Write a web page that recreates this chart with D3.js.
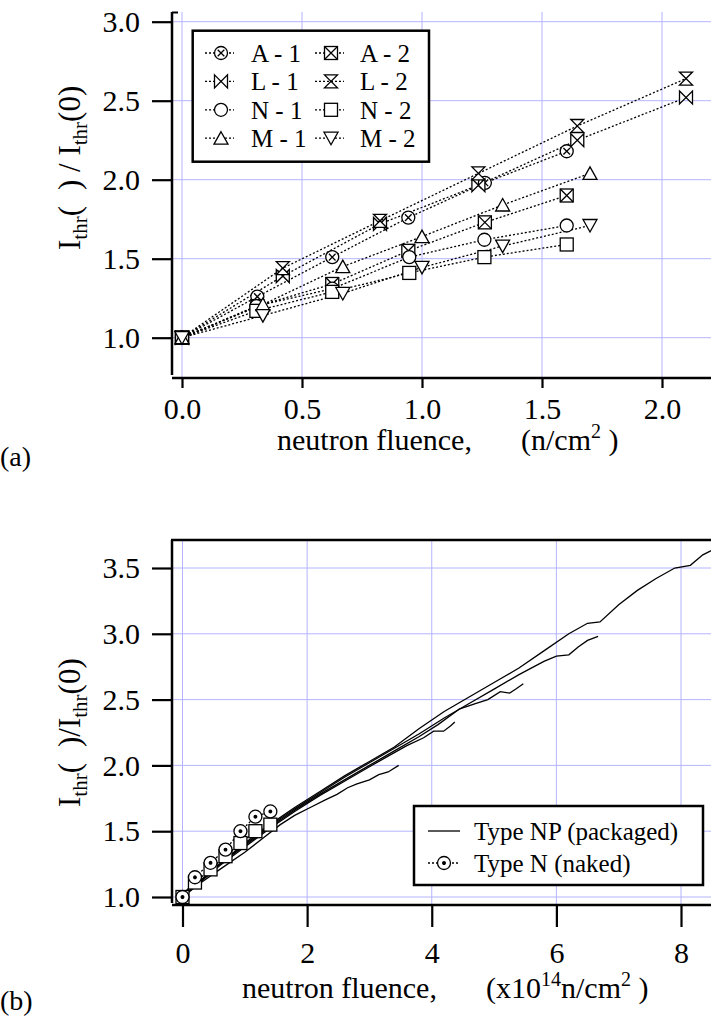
<!DOCTYPE html>
<html><head><meta charset="utf-8">
<script src="https://cdn.jsdelivr.net/npm/d3@7"></script>
<style>
body{margin:0;background:#fff}
svg{display:block}
text{font-family:"Liberation Serif","Times New Roman",serif;fill:#000;white-space:pre}
</style>
</head><body>
<svg id="c" width="711" height="1017"></svg>
<script>
// ---------- DATA: panel (a) ----------
const fluenceA = [0, 0.314, 0.626, 0.943, 1.262, 1.603];
const ratioA1  = [1.0, 1.26, 1.51, 1.76, 1.98, 2.18];
const ratioA2  = [1.0, 1.20, 1.34, 1.55, 1.73, 1.90];
const fluenceL = [0, 0.42, 0.825, 1.235, 1.647, 2.10];
const ratioL1  = [1.0, 1.39, 1.72, 1.965, 2.25, 2.52];
const ratioL2  = [1.0, 1.44, 1.74, 2.04, 2.34, 2.64];
const fluenceN = [0, 0.31, 0.626, 0.947, 1.26, 1.603];
const ratioN1  = [1.0, 1.20, 1.31, 1.51, 1.62, 1.71];
const ratioN2  = [1.0, 1.17, 1.29, 1.41, 1.51, 1.59];
const fluenceM = [0, 0.337, 0.67, 1.0, 1.336, 1.70];
const ratioM1  = [1.0, 1.21, 1.45, 1.64, 1.84, 2.04];
const ratioM2  = [1.0, 1.14, 1.28, 1.445, 1.58, 1.71];
const xTicksA = [0, 0.5, 1.0, 1.5, 2.0];
const yTicksA = [1.0, 1.5, 2.0, 2.5, 3.0];

// ---------- DATA: panel (b) ----------
const nakedFluence = [0, 0.2, 0.45, 0.69, 0.93, 1.17, 1.41];
const nakedRatioCircle = [1.0, 1.15, 1.26, 1.36, 1.50, 1.61, 1.65];
const nakedRatioSquare = [1.0, 1.11, 1.21, 1.31, 1.41, 1.50, 1.55];
const np1Fluence = [0,0.3,0.6,1.0,1.4,1.8,2.2,2.6,3.0,3.4,3.8,4.2,4.6,5.0,5.4,5.8,6.2,6.5,6.7,7.0,7.3,7.6,7.9,8.15,8.35,8.6];
const np1Ratio   = [1.0,1.13,1.25,1.41,1.55,1.68,1.80,1.92,2.03,2.14,2.28,2.41,2.52,2.63,2.74,2.87,3.00,3.08,3.09,3.22,3.33,3.42,3.50,3.52,3.60,3.66];
const np2Fluence = [0,0.3,0.6,1.0,1.4,1.8,2.2,2.6,3.0,3.4,3.8,4.2,4.6,5.0,5.4,5.8,6.0,6.2,6.35,6.5,6.67];
const np2Ratio   = [1.0,1.12,1.25,1.40,1.54,1.67,1.79,1.91,2.02,2.13,2.24,2.36,2.47,2.58,2.69,2.79,2.83,2.84,2.90,2.95,2.98];
const np3Fluence = [0,0.3,0.6,1.0,1.4,1.8,2.2,2.6,3.0,3.4,3.8,4.1,4.45,4.7,4.9,5.1,5.25,5.35,5.47];
const np3Ratio   = [1.0,1.13,1.25,1.39,1.53,1.66,1.78,1.89,2.0,2.11,2.22,2.31,2.43,2.47,2.50,2.56,2.55,2.58,2.62];
const np4Fluence = [0,0.3,0.6,1.0,1.4,1.8,2.2,2.6,3.0,3.3,3.6,3.87,4.03,4.19,4.30,4.37];
const np4Ratio   = [1.0,1.12,1.24,1.38,1.52,1.65,1.77,1.88,1.99,2.07,2.15,2.21,2.26,2.26,2.30,2.33];
const np5Fluence = [0,0.3,0.6,1.0,1.3,1.57,1.8,2.05,2.3,2.48,2.65,2.8,3.0,3.15,3.3,3.47];
const np5Ratio   = [1.0,1.11,1.21,1.34,1.45,1.55,1.62,1.68,1.74,1.78,1.83,1.86,1.89,1.93,1.95,2.0];
const xTicksB = [0, 2, 4, 6, 8];
const yTicksB = [1.0, 1.5, 2.0, 2.5, 3.0, 3.5];

// ---------- SETUP ----------
const svg = d3.select('#c');
const GRID = '#b4b4ff';
const FONT = 30;
const xA = d3.scaleLinear().domain([0, 2]).range([182, 662]);
const yA = d3.scaleLinear().domain([1, 3]).range([337.7, 21.7]);
const xB = d3.scaleLinear().domain([0, 8]).range([182.5, 681]);
const yB = d3.scaleLinear().domain([1, 3.5]).range([897, 568]);

const S = 6.5;
function marker(g, type, cx, cy) {
  const m = g.append('g').attr('transform', `translate(${cx},${cy})`)
    .attr('fill', '#fff').attr('stroke', '#000').attr('stroke-width', 1.3);
  if (type === 'circle' || type === 'circleX' || type === 'circleDot') m.append('circle').attr('r', S);
  if (type === 'circleX') m.append('path').attr('d', 'M-3.3,-3.3L3.3,3.3M-3.3,3.3L3.3,-3.3');
  if (type === 'circleDot') m.append('circle').attr('r', 1.3).attr('fill', '#000');
  if (type === 'square' || type === 'squareX') m.append('rect').attr('x', -S).attr('y', -S).attr('width', 2*S).attr('height', 2*S);
  if (type === 'squareX') m.append('path').attr('d', `M${-S},${-S}L${S},${S}M${-S},${S}L${S},${-S}`);
  if (type === 'bowtie') m.append('path').attr('d', `M${-S},${-S}L${S},${S}L${S},${-S}L${-S},${S}Z`);
  if (type === 'hourglass') m.append('path').attr('d', `M${-S},${-S}L${S},${-S}L${-S},${S}L${S},${S}Z`);
  if (type === 'triUp') m.append('path').attr('d', 'M0,-6.5L7,6L-7,6Z');
  if (type === 'triDown') m.append('path').attr('d', 'M0,6.5L7,-6L-7,-6Z');
}

function zip(xs, ys) { return xs.map((x, i) => [x, ys[i]]); }

// ---------- PANEL (a) ----------
const gA = svg.append('g');
// grid
gA.selectAll('.vg').data(xTicksA).join('line')
  .attr('x1', d => xA(d)).attr('x2', d => xA(d)).attr('y1', 12).attr('y2', 378)
  .attr('stroke', GRID).attr('stroke-width', 1);
gA.selectAll('.hg').data(yTicksA).join('line')
  .attr('x1', 172).attr('x2', 711).attr('y1', d => yA(d)).attr('y2', d => yA(d))
  .attr('stroke', GRID).attr('stroke-width', 1);

const seriesA = [
  {name: 'A - 1', pts: zip(fluenceA, ratioA1), m: 'circleX'},
  {name: 'A - 2', pts: zip(fluenceA, ratioA2), m: 'squareX'},
  {name: 'L - 1', pts: zip(fluenceL, ratioL1), m: 'bowtie'},
  {name: 'L - 2', pts: zip(fluenceL, ratioL2), m: 'hourglass'},
  {name: 'N - 1', pts: zip(fluenceN, ratioN1), m: 'circle'},
  {name: 'N - 2', pts: zip(fluenceN, ratioN2), m: 'square'},
  {name: 'M - 1', pts: zip(fluenceM, ratioM1), m: 'triUp'},
  {name: 'M - 2', pts: zip(fluenceM, ratioM2), m: 'triDown'}
];
const lineA = d3.line().x(d => xA(d[0])).y(d => yA(d[1]));
seriesA.forEach(s => {
  gA.append('path').attr('d', lineA(s.pts)).attr('fill', 'none')
    .attr('stroke', '#000').attr('stroke-width', 1.3).attr('stroke-dasharray', '2,2');
});
seriesA.forEach(s => s.pts.forEach(p => marker(gA, s.m, xA(p[0]), yA(p[1]))));

// axes
const axYA = gA.append('g').attr('transform', 'translate(172,0)')
  .call(d3.axisLeft(yA).tickValues(yTicksA).tickSize(20).tickPadding(12).tickFormat(d3.format('.1f')));
const axXA = gA.append('g').attr('transform', 'translate(0,378)')
  .call(d3.axisBottom(xA).tickValues(xTicksA).tickSize(10).tickPadding(9.7).tickFormat(d3.format('.1f')));
[axYA, axXA].forEach(a => {
  a.select('.domain').remove();
  a.selectAll('line').attr('stroke-width', 2.2);
  a.selectAll('text').attr('font-size', FONT).attr('font-family', '"Liberation Serif","Times New Roman",serif');
});
gA.append('line').attr('x1', 172).attr('x2', 172).attr('y1', 12).attr('y2', 375).attr('stroke', '#000').attr('stroke-width', 2.5);
gA.append('line').attr('x1', 172).attr('x2', 178).attr('y1', 12.5).attr('y2', 12.5).attr('stroke', '#000').attr('stroke-width', 2);
gA.append('line').attr('x1', 172).attr('x2', 711).attr('y1', 378).attr('y2', 378).attr('stroke', '#000').attr('stroke-width', 2.5);

// legend (a)
gA.append('rect').attr('x', 192.7).attr('y', 30.7).attr('width', 236.3).attr('height', 131)
  .attr('fill', '#fff').attr('stroke', '#000').attr('stroke-width', 2.5);
seriesA.forEach((s, i) => {
  const row = Math.floor(i / 2), col = i % 2;
  const cy = 53 + row * 28.4;
  const x0 = col === 0 ? 205 : 315;
  const mx = col === 0 ? 221 : 331;
  const tx = col === 0 ? 251 : 360;
  gA.append('line').attr('x1', x0).attr('x2', x0 + 29).attr('y1', cy).attr('y2', cy)
    .attr('stroke', '#000').attr('stroke-width', 1.3).attr('stroke-dasharray', '2,2');
  marker(gA, s.m, mx, cy);
  gA.append('text').attr('x', tx).attr('y', cy + 9).attr('font-size', 25).text(s.name);
});

// titles (a)
const tyA = gA.append('text').attr('transform', 'translate(80,250) rotate(-90)').attr('font-size', 31);
tyA.append('tspan').text('I');
tyA.append('tspan').attr('font-size', 21).attr('dy', 7).text('thr');
tyA.append('tspan').attr('dy', -7).text('(');
tyA.append('tspan').attr('dx', 16).text(') / I');
tyA.append('tspan').attr('font-size', 21).attr('dy', 7).text('thr');
tyA.append('tspan').attr('dy', -7).text('(0)');

const txA = gA.append('text').attr('x', 277).attr('y', 450).attr('font-size', FONT);
txA.append('tspan').text('neutron fluence,');
txA.append('tspan').attr('x', 521).text('(n/cm');
txA.append('tspan').attr('font-size', 20).attr('dy', -12).text('2');
txA.append('tspan').attr('dy', 12).text(' )');

svg.append('text').attr('x', 0).attr('y', 466).attr('font-size', 28).text('(a)');

// ---------- PANEL (b) ----------
const gB = svg.append('g');
gB.selectAll('.vg').data(xTicksB).join('line')
  .attr('x1', d => xB(d)).attr('x2', d => xB(d)).attr('y1', 540).attr('y2', 905)
  .attr('stroke', GRID).attr('stroke-width', 1);
gB.selectAll('.hg').data(yTicksB).join('line')
  .attr('x1', 172).attr('x2', 711).attr('y1', d => yB(d)).attr('y2', d => yB(d))
  .attr('stroke', GRID).attr('stroke-width', 1);

const lineB = d3.line().x(d => xB(d[0])).y(d => yB(d[1]));
const npCurves = [
  zip(np1Fluence, np1Ratio), zip(np2Fluence, np2Ratio), zip(np3Fluence, np3Ratio),
  zip(np4Fluence, np4Ratio), zip(np5Fluence, np5Ratio)
];
npCurves.forEach(c => gB.append('path').attr('d', lineB(c)).attr('fill', 'none')
  .attr('stroke', '#000').attr('stroke-width', 1.3));

const nakedSq = zip(nakedFluence, nakedRatioSquare);
const nakedCi = zip(nakedFluence, nakedRatioCircle);
[nakedSq, nakedCi].forEach(c => gB.append('path').attr('d', lineB(c)).attr('fill', 'none')
  .attr('stroke', '#000').attr('stroke-width', 1.3).attr('stroke-dasharray', '2,2'));
nakedSq.forEach(p => marker(gB, 'square', xB(p[0]), yB(p[1])));
nakedCi.forEach(p => marker(gB, 'circleDot', xB(p[0]), yB(p[1])));

const axYB = gB.append('g').attr('transform', 'translate(172,0)')
  .call(d3.axisLeft(yB).tickValues(yTicksB).tickSize(20).tickPadding(12).tickFormat(d3.format('.1f')));
const axXB = gB.append('g').attr('transform', 'translate(0,905)')
  .call(d3.axisBottom(xB).tickValues(xTicksB).tickSize(22).tickPadding(14.7).tickFormat(d3.format('d')));
[axYB, axXB].forEach(a => {
  a.select('.domain').remove();
  a.selectAll('line').attr('stroke-width', 2.2);
  a.selectAll('text').attr('font-size', FONT).attr('font-family', '"Liberation Serif","Times New Roman",serif');
});
gB.append('line').attr('x1', 172).attr('x2', 172).attr('y1', 540).attr('y2', 903).attr('stroke', '#000').attr('stroke-width', 2.5);
gB.append('line').attr('x1', 171).attr('x2', 711).attr('y1', 540).attr('y2', 540).attr('stroke', '#000').attr('stroke-width', 2.5);
gB.append('line').attr('x1', 172).attr('x2', 711).attr('y1', 905).attr('y2', 905).attr('stroke', '#000').attr('stroke-width', 2.5);

// legend (b)
gB.append('rect').attr('x', 414).attr('y', 806).attr('width', 289).attr('height', 79)
  .attr('fill', '#fff').attr('stroke', '#000').attr('stroke-width', 2.5);
gB.append('line').attr('x1', 428).attr('x2', 460).attr('y1', 831).attr('y2', 831)
  .attr('stroke', '#000').attr('stroke-width', 1.3);
gB.append('text').attr('x', 474).attr('y', 840).attr('font-size', 25).text('Type NP (packaged)');
gB.append('line').attr('x1', 428).attr('x2', 460).attr('y1', 863).attr('y2', 863)
  .attr('stroke', '#000').attr('stroke-width', 1.3).attr('stroke-dasharray', '2,2');
marker(gB, 'circleDot', 444, 863);
gB.append('text').attr('x', 474).attr('y', 872).attr('font-size', 25).text('Type N (naked)');

// titles (b)
const tyB = gB.append('text').attr('transform', 'translate(80,807) rotate(-90)').attr('font-size', 31);
tyB.append('tspan').text('I');
tyB.append('tspan').attr('font-size', 21).attr('dy', 7).text('thr');
tyB.append('tspan').attr('dy', -7).text('(');
tyB.append('tspan').attr('dx', 16).text(')/I');
tyB.append('tspan').attr('font-size', 21).attr('dy', 7).text('thr');
tyB.append('tspan').attr('dy', -7).text('(0)');

const txB = gB.append('text').attr('x', 242).attr('y', 998).attr('font-size', FONT);
txB.append('tspan').text('neutron fluence,');
txB.append('tspan').attr('x', 486).text('(x10');
txB.append('tspan').attr('font-size', 20).attr('dy', -12).text('14');
txB.append('tspan').attr('dy', 12).text('n/cm');
txB.append('tspan').attr('font-size', 20).attr('dy', -12).text('2');
txB.append('tspan').attr('dy', 12).text(' )');

svg.append('text').attr('x', 0).attr('y', 1010).attr('font-size', 28).text('(b)');
</script>
</body></html>
